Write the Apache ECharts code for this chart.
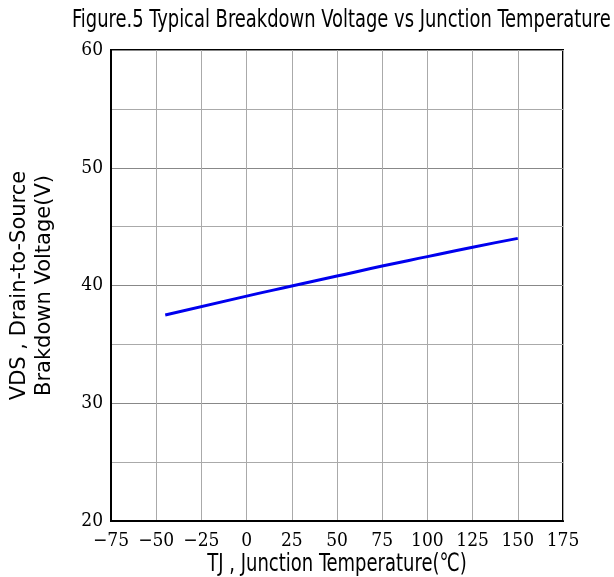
<!DOCTYPE html>
<html><head><meta charset="utf-8">
<script src="https://cdn.jsdelivr.net/npm/echarts@6/dist/echarts.min.js"></script>
<style>html,body{margin:0;padding:0;background:#fff}#c{width:614px;height:577px}</style>
</head><body><div id="c"></div>
<script>
var temps = [-45, 0, 25, 50, 75, 100, 125, 150];
var voltage = [37.5, 39.1, 39.95, 40.8, 41.65, 42.45, 43.25, 44.0];
var titleText = 'Figure.5 Typical Breakdown Voltage vs Junction Temperature';
var xName = 'TJ , Junction Temperature(℃)';
var yName = 'VDS , Drain-to-Source\nBrakdown Voltage(V)';

var narrow = '"DejaVu Sans Condensed", "Liberation Sans Narrow", "Liberation Sans", sans-serif';
var serifC = '"DejaVu Serif Condensed", "Liberation Serif", serif';
var chart = echarts.init(document.getElementById('c'));
chart.setOption({
  animation: false,
  graphic: [
    {type: 'text', x: 72, y: 21, scaleX: 0.83, silent: true,
      style: {text: titleText, font: '24px ' + narrow, fill: '#000', textAlign: 'left', textVerticalAlign: 'middle'}},
    {type: 'text', x: 337, y: 564, scaleX: 0.8, silent: true,
      style: {text: xName, font: '25px ' + narrow, fill: '#000', textAlign: 'center', textVerticalAlign: 'middle'}}
  ],
  grid: {left: 111, right: 51, top: 50, bottom: 56, containLabel: false, outerBoundsMode: 'none',
    show: true, borderColor: '#000', borderWidth: 2},
  xAxis: {type: 'value', min: -75, max: 175, interval: 25,
    axisLine: {show: true, onZero: false, lineStyle: {color: '#000', width: 2}},
    axisTick: {show: false},
    axisLabel: {fontFamily: serifC, fontSize: 19, color: '#000', margin: 11,
      formatter: function(v){ return v < 0 ? '\u2212' + (-v) : '' + v; }},
    splitLine: {show: true, lineStyle: {color: '#aaa', width: 1}}
  },
  yAxis: {type: 'value', min: 20, max: 60, interval: 5,
    name: yName, nameLocation: 'middle', nameGap: 54, nameRotate: 90,
    nameTextStyle: {fontFamily: '"DejaVu Sans", sans-serif', fontSize: 21, color: '#000', lineHeight: 25},
    axisLine: {show: true, onZero: false, lineStyle: {color: '#000', width: 2}},
    axisTick: {show: false},
    axisLabel: {fontFamily: serifC, fontSize: 19, color: '#000', margin: 8,
      formatter: function(v){ return v % 10 === 0 ? '' + v : ''; }},
    splitLine: {show: true, lineStyle: {color: ['#888', '#aaa'], width: 1}}
  },
  series: [{type: 'line', data: temps.map(function(t, i){ return [t, voltage[i]]; }),
    showSymbol: false, smooth: true,
    lineStyle: {color: '#0000ee', width: 3}}]
});
</script>
</body></html>
